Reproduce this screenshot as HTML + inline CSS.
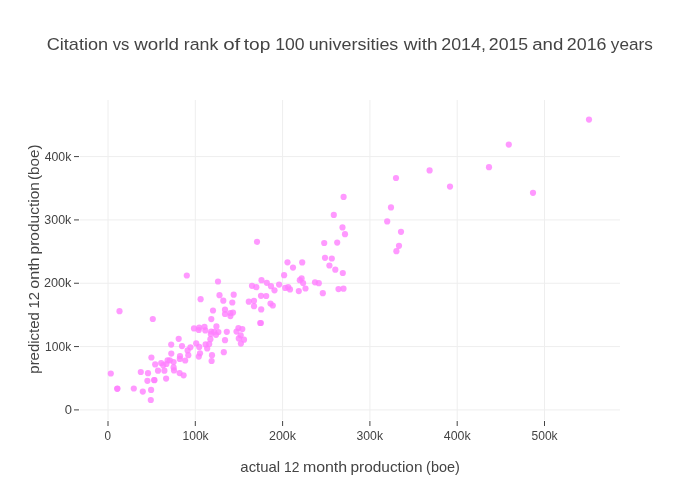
<!DOCTYPE html><html><head><meta charset="utf-8"><title>chart</title><style>
html,body{margin:0;padding:0;background:#fff;}svg{display:block;font-family:"Liberation Sans",sans-serif;}
</style></head><body>
<svg width="700" height="500" viewBox="0 0 700 500">
<rect x="0" y="0" width="700" height="500" fill="#fff"/>
<path d="M108.00,100V420M195.30,100V420M282.60,100V420M369.90,100V420M457.20,100V420M544.50,100V420M80,409.90H620M80,346.57H620M80,283.24H620M80,219.91H620M80,156.58H620" stroke="#eeeeee" stroke-width="1" fill="none"/>
<path d="M108.00,421V426M195.30,421V426M282.60,421V426M369.90,421V426M457.20,421V426M544.50,421V426M74,409.90H79M74,346.57H79M74,283.24H79M74,219.91H79M74,156.58H79" stroke="#444444" stroke-width="1" fill="none"/>
<g fill="#ff80ff" fill-opacity="0.8">
<circle cx="589.0" cy="119.6" r="3.1"/>
<circle cx="508.8" cy="144.6" r="3.1"/>
<circle cx="489.0" cy="167.2" r="3.1"/>
<circle cx="533.0" cy="192.8" r="3.1"/>
<circle cx="429.6" cy="170.4" r="3.1"/>
<circle cx="396.0" cy="178.0" r="3.1"/>
<circle cx="450.0" cy="186.6" r="3.1"/>
<circle cx="343.6" cy="196.9" r="3.1"/>
<circle cx="391.0" cy="207.4" r="3.1"/>
<circle cx="387.2" cy="221.4" r="3.1"/>
<circle cx="401.0" cy="231.8" r="3.1"/>
<circle cx="399.0" cy="245.8" r="3.1"/>
<circle cx="396.4" cy="251.2" r="3.1"/>
<circle cx="333.8" cy="214.9" r="3.1"/>
<circle cx="342.5" cy="227.4" r="3.1"/>
<circle cx="345.0" cy="234.2" r="3.1"/>
<circle cx="324.2" cy="243.0" r="3.1"/>
<circle cx="337.2" cy="242.6" r="3.1"/>
<circle cx="325.0" cy="257.8" r="3.1"/>
<circle cx="331.8" cy="258.5" r="3.1"/>
<circle cx="329.4" cy="265.5" r="3.1"/>
<circle cx="335.3" cy="269.7" r="3.1"/>
<circle cx="342.8" cy="273.0" r="3.1"/>
<circle cx="287.5" cy="262.3" r="3.1"/>
<circle cx="302.2" cy="262.4" r="3.1"/>
<circle cx="293.0" cy="267.6" r="3.1"/>
<circle cx="284.1" cy="275.2" r="3.1"/>
<circle cx="279.1" cy="284.6" r="3.1"/>
<circle cx="274.5" cy="290.3" r="3.1"/>
<circle cx="285.2" cy="287.9" r="3.1"/>
<circle cx="288.2" cy="287.2" r="3.1"/>
<circle cx="290.0" cy="289.4" r="3.1"/>
<circle cx="299.8" cy="280.2" r="3.1"/>
<circle cx="301.6" cy="278.4" r="3.1"/>
<circle cx="303.1" cy="283.1" r="3.1"/>
<circle cx="305.5" cy="288.5" r="3.1"/>
<circle cx="298.8" cy="291.1" r="3.1"/>
<circle cx="315.0" cy="282.3" r="3.1"/>
<circle cx="318.8" cy="283.2" r="3.1"/>
<circle cx="322.8" cy="293.2" r="3.1"/>
<circle cx="338.5" cy="289.1" r="3.1"/>
<circle cx="343.5" cy="288.7" r="3.1"/>
<circle cx="257.0" cy="241.8" r="3.1"/>
<circle cx="218.0" cy="281.5" r="3.1"/>
<circle cx="219.5" cy="295.2" r="3.1"/>
<circle cx="233.7" cy="294.7" r="3.1"/>
<circle cx="223.3" cy="300.7" r="3.1"/>
<circle cx="232.3" cy="302.5" r="3.1"/>
<circle cx="213.0" cy="310.5" r="3.1"/>
<circle cx="225.0" cy="309.7" r="3.1"/>
<circle cx="252.0" cy="285.8" r="3.1"/>
<circle cx="256.3" cy="287.2" r="3.1"/>
<circle cx="261.5" cy="280.2" r="3.1"/>
<circle cx="266.8" cy="282.8" r="3.1"/>
<circle cx="271.0" cy="286.2" r="3.1"/>
<circle cx="261.0" cy="295.8" r="3.1"/>
<circle cx="266.2" cy="296.0" r="3.1"/>
<circle cx="248.8" cy="301.7" r="3.1"/>
<circle cx="254.0" cy="300.8" r="3.1"/>
<circle cx="254.0" cy="306.2" r="3.1"/>
<circle cx="261.2" cy="309.4" r="3.1"/>
<circle cx="270.5" cy="303.5" r="3.1"/>
<circle cx="272.8" cy="305.5" r="3.1"/>
<circle cx="225.0" cy="314.0" r="3.1"/>
<circle cx="230.4" cy="313.0" r="3.1"/>
<circle cx="233.0" cy="312.6" r="3.1"/>
<circle cx="230.4" cy="316.1" r="3.1"/>
<circle cx="211.3" cy="319.1" r="3.1"/>
<circle cx="260.2" cy="323.0" r="3.1"/>
<circle cx="260.9" cy="323.0" r="3.1"/>
<circle cx="226.8" cy="331.8" r="3.1"/>
<circle cx="225.0" cy="340.2" r="3.1"/>
<circle cx="223.8" cy="352.2" r="3.1"/>
<circle cx="238.4" cy="328.0" r="3.1"/>
<circle cx="242.3" cy="329.1" r="3.1"/>
<circle cx="236.5" cy="331.6" r="3.1"/>
<circle cx="240.7" cy="335.3" r="3.1"/>
<circle cx="238.8" cy="338.4" r="3.1"/>
<circle cx="244.0" cy="339.7" r="3.1"/>
<circle cx="240.9" cy="343.6" r="3.1"/>
<circle cx="194.0" cy="328.4" r="3.1"/>
<circle cx="199.2" cy="327.6" r="3.1"/>
<circle cx="198.8" cy="330.0" r="3.1"/>
<circle cx="204.5" cy="326.8" r="3.1"/>
<circle cx="205.3" cy="330.4" r="3.1"/>
<circle cx="216.4" cy="326.4" r="3.1"/>
<circle cx="211.2" cy="331.5" r="3.1"/>
<circle cx="218.4" cy="332.0" r="3.1"/>
<circle cx="216.0" cy="334.8" r="3.1"/>
<circle cx="210.8" cy="334.0" r="3.1"/>
<circle cx="210.4" cy="339.2" r="3.1"/>
<circle cx="205.6" cy="344.4" r="3.1"/>
<circle cx="209.2" cy="344.0" r="3.1"/>
<circle cx="207.2" cy="348.5" r="3.1"/>
<circle cx="196.2" cy="343.4" r="3.1"/>
<circle cx="199.2" cy="346.9" r="3.1"/>
<circle cx="178.7" cy="338.8" r="3.1"/>
<circle cx="182.0" cy="346.1" r="3.1"/>
<circle cx="190.4" cy="347.3" r="3.1"/>
<circle cx="187.6" cy="350.4" r="3.1"/>
<circle cx="188.3" cy="355.2" r="3.1"/>
<circle cx="200.0" cy="353.3" r="3.1"/>
<circle cx="198.8" cy="356.6" r="3.1"/>
<circle cx="212.0" cy="355.2" r="3.1"/>
<circle cx="211.6" cy="361.0" r="3.1"/>
<circle cx="180.0" cy="356.2" r="3.1"/>
<circle cx="179.8" cy="358.9" r="3.1"/>
<circle cx="185.2" cy="360.5" r="3.1"/>
<circle cx="179.6" cy="373.1" r="3.1"/>
<circle cx="183.6" cy="375.3" r="3.1"/>
<circle cx="186.8" cy="275.5" r="3.1"/>
<circle cx="200.6" cy="299.2" r="3.1"/>
<circle cx="119.5" cy="311.2" r="3.1"/>
<circle cx="152.8" cy="319.0" r="3.1"/>
<circle cx="171.2" cy="344.6" r="3.1"/>
<circle cx="171.3" cy="353.6" r="3.1"/>
<circle cx="151.4" cy="357.5" r="3.1"/>
<circle cx="155.2" cy="364.4" r="3.1"/>
<circle cx="161.2" cy="363.0" r="3.1"/>
<circle cx="163.2" cy="365.2" r="3.1"/>
<circle cx="167.6" cy="360.4" r="3.1"/>
<circle cx="166.4" cy="364.0" r="3.1"/>
<circle cx="173.6" cy="362.0" r="3.1"/>
<circle cx="173.6" cy="367.4" r="3.1"/>
<circle cx="174.0" cy="370.4" r="3.1"/>
<circle cx="158.0" cy="370.7" r="3.1"/>
<circle cx="164.4" cy="370.7" r="3.1"/>
<circle cx="140.8" cy="372.0" r="3.1"/>
<circle cx="148.0" cy="373.2" r="3.1"/>
<circle cx="166.1" cy="378.6" r="3.1"/>
<circle cx="147.4" cy="380.8" r="3.1"/>
<circle cx="154.2" cy="380.0" r="3.1"/>
<circle cx="154.4" cy="380.2" r="3.1"/>
<circle cx="151.1" cy="389.9" r="3.1"/>
<circle cx="142.8" cy="391.6" r="3.1"/>
<circle cx="110.8" cy="373.5" r="3.1"/>
<circle cx="117.2" cy="388.8" r="3.1"/>
<circle cx="117.4" cy="388.6" r="3.1"/>
<circle cx="133.8" cy="388.5" r="3.1"/>
<circle cx="150.8" cy="400.0" r="3.1"/>
<circle cx="214.2" cy="331.8" r="3.1"/>
<circle cx="169.8" cy="360.3" r="3.1"/>
</g>
<g fill="#444444" opacity="0.999">
<text transform="translate(104.56,440) scale(0.9739,1)" font-size="12">0</text>
<text transform="translate(182.50,440) scale(1.0040,1)" font-size="12">100k</text>
<text transform="translate(268.98,440) scale(1.0394,1)" font-size="12">200k</text>
<text transform="translate(356.54,440) scale(1.0176,1)" font-size="12">300k</text>
<text transform="translate(443.74,440) scale(1.0330,1)" font-size="12">400k</text>
<text transform="translate(531.50,440) scale(1.0039,1)" font-size="12">500k</text>
<text transform="translate(64.71,413.7) scale(1.0783,1)" font-size="12">0</text>
<text transform="translate(45.09,350.7) scale(1.0080,1)" font-size="12">100k</text>
<text transform="translate(43.97,287.3) scale(1.0551,1)" font-size="12">200k</text>
<text transform="translate(44.33,224.0) scale(1.0372,1)" font-size="12">300k</text>
<text transform="translate(44.64,160.8) scale(1.0252,1)" font-size="12">400k</text>
<text transform="translate(46.69,49.8) scale(1.0664,1)" font-size="17">Citation</text>
<text transform="translate(112.65,49.8) scale(0.9786,1)" font-size="17">vs</text>
<text transform="translate(134.16,49.8) scale(1.1049,1)" font-size="17">world</text>
<text transform="translate(183.75,49.8) scale(1.0454,1)" font-size="17">rank</text>
<text transform="translate(223.15,49.8) scale(1.2074,1)" font-size="17">of</text>
<text transform="translate(243.82,49.8) scale(1.1233,1)" font-size="17">top</text>
<text transform="translate(275.25,49.8) scale(1.0379,1)" font-size="17">100</text>
<text transform="translate(308.64,49.8) scale(1.0546,1)" font-size="17">universities</text>
<text transform="translate(403.66,49.8) scale(1.1233,1)" font-size="17">with</text>
<text transform="translate(441.21,49.8) scale(1.0511,1)" font-size="17">2014,</text>
<text transform="translate(488.82,49.8) scale(1.0400,1)" font-size="17">2015</text>
<text transform="translate(532.23,49.8) scale(1.0960,1)" font-size="17">and</text>
<text transform="translate(566.81,49.8) scale(1.0497,1)" font-size="17">2016</text>
<text transform="translate(610.85,49.8) scale(1.0098,1)" font-size="17">years</text>
<text transform="translate(240.36,471.5) scale(1.0656,1)" font-size="14">actual</text>
<text transform="translate(284.06,471.5) scale(0.9892,1)" font-size="14">12</text>
<text transform="translate(302.88,471.5) scale(1.1375,1)" font-size="14">month</text>
<text transform="translate(350.51,471.5) scale(1.1006,1)" font-size="14">production</text>
<text transform="translate(426.12,471.5) scale(1.0339,1)" font-size="14">(boe)</text>
<text transform="translate(39.3,373.66) rotate(-90) scale(1.0663,1)" font-size="14">predicted</text>
<text transform="translate(39.3,308.40) rotate(-90) scale(1.0469,1)" font-size="14">12</text>
<text transform="translate(39.3,288.69) rotate(-90) scale(1.1456,1)" font-size="14">onth</text>
<text transform="translate(39.3,254.39) rotate(-90) scale(1.1053,1)" font-size="14">production</text>
<text transform="translate(39.3,180.02) rotate(-90) scale(1.0856,1)" font-size="14">(boe)</text>
</g>
</svg></body></html>
